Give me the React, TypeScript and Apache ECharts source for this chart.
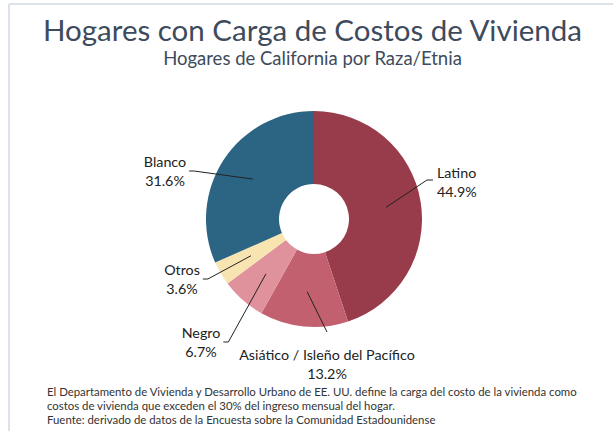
import React, { useEffect, useRef } from "react";
import * as echarts from "echarts";

const categories = ["Latino", "Asiático / Isleño del Pacífico", "Negro", "Otros", "Blanco"];
const shares = [44.9, 13.2, 6.7, 3.6, 31.6];
const sliceColors = ["#983b4b", "#c3606f", "#df929c", "#f8e4b1", "#2c6483"];

const titleText = "Hogares con Carga de Costos de Vivienda";
const subtitleText = "Hogares de California por Raza/Etnia";
const footnoteLines = [
  "El Departamento de Vivienda y Desarrollo Urbano de EE. UU. define la carga del costo de la vivienda como",
  "costos de vivienda que exceden el 30% del ingreso mensual del hogar.",
  "Fuente: derivado de datos de la Encuesta sobre la Comunidad Estadounidense",
];

// label anchor placement (layout only)
const labelPlacement = [
  { x: 437, y: 182, align: "left", side: "left" },
  { x: 327, y: 364, align: "center", side: "top" },
  { x: 201, y: 342, align: "center", side: "right" },
  { x: 182, y: 279, align: "center", side: "right" },
  { x: 165, y: 171, align: "center", side: "right" },
];

const FONT = "Lato, 'Open Sans', sans-serif";
const CENTER = [314, 219];

export default function App() {
  const ref = useRef<HTMLDivElement>(null);
  useEffect(() => {
    if (!ref.current) return;
    const chart = echarts.init(ref.current, undefined, { renderer: "svg" });
    const data = categories.map((name, i) => ({
      name,
      value: shares[i],
      itemStyle: { color: sliceColors[i] },
    }));
    const option: any = {
      animation: false,
      backgroundColor: "#ffffff",
      graphic: [
        { type: "line", shape: { x1: 9, y1: 4, x2: 613, y2: 4 }, style: { stroke: "#dbe2ea", lineWidth: 2 } },
        { type: "line", shape: { x1: 9, y1: 4, x2: 9, y2: 431 }, style: { stroke: "#dbe2ea", lineWidth: 2 } },
        {
          type: "text",
          x: 312.5,
          y: 29,
          style: {
            text: titleText,
            fontFamily: FONT,
            fontSize: 29.5,
            fill: "#3d4b5c",
            textAlign: "center",
            textVerticalAlign: "middle",
          },
        },
        {
          type: "text",
          x: 312.5,
          y: 58,
          style: {
            text: subtitleText,
            fontFamily: FONT,
            fontSize: 18.5,
            fill: "#3d4b5c",
            textAlign: "center",
            textVerticalAlign: "middle",
          },
        },
        {
          type: "text",
          x: 47,
          y: 384,
          style: {
            text: footnoteLines.join("\n"),
            fontFamily: FONT,
            fontSize: 11.4,
            lineHeight: 14,
            fill: "#333333",
            textAlign: "left",
            textVerticalAlign: "top",
          },
        },
      ],
      series: [
        {
          type: "pie",
          center: CENTER,
          radius: [35, 108],
          startAngle: 90,
          clockwise: true,
          silent: true,
          label: { show: false },
          labelLine: { show: false },
          emphasis: { disabled: true },
          data,
        },
        {
          type: "pie",
          center: CENTER,
          radius: [0, 73],
          startAngle: 90,
          clockwise: true,
          silent: true,
          z: 5,
          avoidLabelOverlap: false,
          emphasis: { disabled: true },
          itemStyle: { color: "rgba(0,0,0,0)" },
          label: {
            show: true,
            position: "outside",
            fontFamily: FONT,
            fontSize: 14.3,
            lineHeight: 19,
            color: "#222222",
            formatter: (p: any) => `${p.name}\n${Number(p.value).toFixed(1)}%`,
          },
          labelLine: { show: true, length: 5, length2: 5, lineStyle: { color: "#222222", width: 1 } },
          labelLayout: (params: any) => {
            const p = labelPlacement[params.dataIndex];
            const w = params.labelRect.width;
            const h = params.labelRect.height;
            const start = params.labelLinePoints ? params.labelLinePoints[0] : CENTER;
            let end: number[];
            let bend: number[];
            if (p.side === "left") {
              end = [p.x - 4, p.y - 2];
              bend = [end[0] - 6, end[1]];
            } else if (p.side === "right") {
              const edge = p.align === "center" ? p.x + w / 2 : p.x + w;
              end = [edge + 3, p.y];
              bend = [end[0] + 5, end[1]];
            } else {
              end = [p.x, p.y - h / 2 - 13];
              bend = end;
            }
            return {
              x: p.x,
              y: p.y,
              align: p.align,
              verticalAlign: "middle",
              labelLinePoints: [start, bend, end],
            };
          },
          data: categories.map((name, i) => ({ name, value: shares[i] })),
        },
      ],
    };
    chart.setOption(option);
    return () => chart.dispose();
  }, []);
  return (
    <div
      ref={ref}
      style={{ position: "absolute", left: 0, top: 0, width: 613, height: 431, background: "#fff" }}
    />
  );
}
